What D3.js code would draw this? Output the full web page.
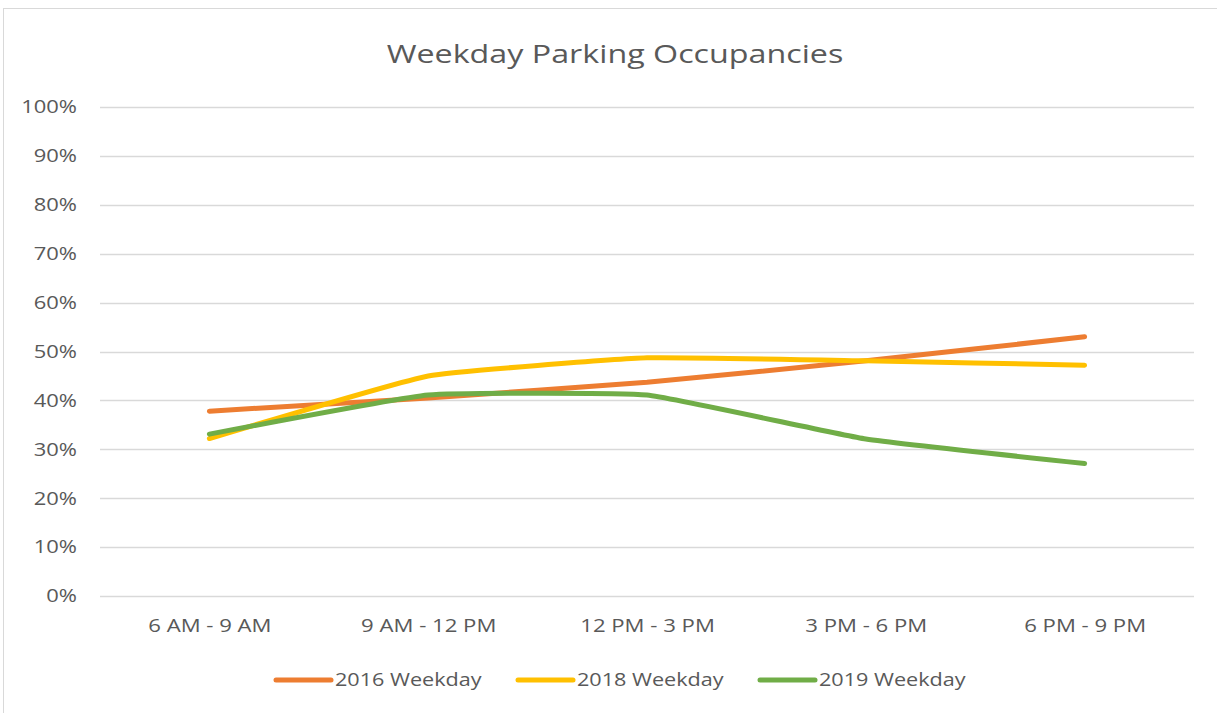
<!DOCTYPE html>
<html lang="en">
  <head>
    <meta charset="utf-8" />
    <title>Weekday Parking Occupancies</title>
    <script src="https://cdn.jsdelivr.net/npm/d3@7"></script>
    <style>
      body { margin: 0; background: #fff; }
      text { font-family: 'Open Sans', 'Noto Sans', sans-serif; fill: #595959; }
    </style>
  </head>
  <body>
    <svg id="chart" width="1217" height="713"></svg>
    <script>
      // data
      var categories = ['6 AM - 9 AM', '9 AM - 12 PM', '12 PM - 3 PM', '3 PM - 6 PM', '6 PM - 9 PM'];
      var seriesNames = ['2016 Weekday', '2018 Weekday', '2019 Weekday'];
      var values2016 = [0.378, 0.405, 0.437, 0.481, 0.530];
      var values2018 = [0.322, 0.450, 0.487, 0.481, 0.472];
      var values2019 = [0.331, 0.411, 0.411, 0.321, 0.271];
      var yTicks = [0, 0.1, 0.2, 0.3, 0.4, 0.5, 0.6, 0.7, 0.8, 0.9, 1];
      var colors = ['#ED7D31', '#FFC000', '#70AD47'];

      var series = [values2016, values2018, values2019];

      var svg = d3.select('#chart');
      var plotLeft = 100, plotRight = 1194, plotTop = 107, plotBottom = 596;

      // the reference font runs wider than Open Sans, stretch the glyphs a bit
      function widen(sel, k) {
        sel.each(function() {
          var w = this.getComputedTextLength();
          d3.select(this).attr('textLength', w * k).attr('lengthAdjust', 'spacingAndGlyphs');
        });
      }

      // chart frame
      svg.append('rect')
        .attr('x', 3.5).attr('y', 8.5)
        .attr('width', 1230).attr('height', 720)
        .attr('fill', 'none')
        .attr('stroke', '#d9d9d9');

      svg.append('text')
        .attr('x', 615).attr('y', 63)
        .attr('text-anchor', 'middle')
        .style('font-size', '25px')
        .text('Weekday Parking Occupancies')
        .call(widen, 1.29);

      var x = d3.scalePoint().domain(categories).range([plotLeft, plotRight]).padding(0.5);
      var y = d3.scaleLinear().domain([0, 1]).range([plotBottom, plotTop]);

      // gridlines
      svg.append('g').selectAll('line')
        .data(yTicks)
        .join('line')
        .attr('x1', plotLeft).attr('x2', plotRight)
        .attr('y1', function(d) { return Math.round(y(d)) + 0.5; })
        .attr('y2', function(d) { return Math.round(y(d)) + 0.5; })
        .attr('stroke', '#d9d9d9')
        .attr('stroke-width', 1.3);

      // y tick labels
      svg.append('g').selectAll('text')
        .data(yTicks)
        .join('text')
        .attr('x', 77)
        .attr('y', function(d) { return y(d); })
        .attr('dy', '0.35em')
        .attr('text-anchor', 'end')
        .style('font-size', '18px')
        .text(d3.format('.0%'))
        .call(widen, 1.22);

      // x labels
      var xAxis = svg.append('g')
        .attr('transform', 'translate(0,' + plotBottom + ')')
        .call(d3.axisBottom(x).tickSize(0).tickPadding(23));
      xAxis.select('.domain').remove();
      xAxis.selectAll('text')
        .style('font-size', '18px')
        .attr('fill', '#595959')
        .style('font-family', "'Open Sans', 'Noto Sans', sans-serif")
        .call(widen, 1.23);

      // excel-style smoothing is gentle: mostly straight with rounded joins
      var line = d3.line()
        .x(function(d, i) { return x(categories[i]); })
        .y(function(d) { return y(d); })
        .curve(d3.curveCardinal.tension(0.65));

      svg.append('g').selectAll('path')
        .data(series)
        .join('path')
        .attr('d', line)
        .attr('fill', 'none')
        .attr('stroke', function(d, i) { return colors[i]; })
        .attr('stroke-width', 5)
        .attr('stroke-linecap', 'round')
        .attr('stroke-linejoin', 'round');

      // legend
      var legendX = [276, 518, 760];
      var legend = svg.append('g').selectAll('g')
        .data(seriesNames)
        .join('g')
        .attr('transform', function(d, i) { return 'translate(' + legendX[i] + ',680)'; });
      legend.append('line')
        .attr('x1', 0).attr('x2', 55)
        .attr('stroke', function(d, i) { return colors[i]; })
        .attr('stroke-width', 5)
        .attr('stroke-linecap', 'round');
      legend.append('text')
        .attr('x', 59)
        .attr('dy', '0.35em')
        .style('font-size', '18px')
        .text(function(d) { return d; })
        .call(widen, 1.2);
    </script>
  </body>
</html>
